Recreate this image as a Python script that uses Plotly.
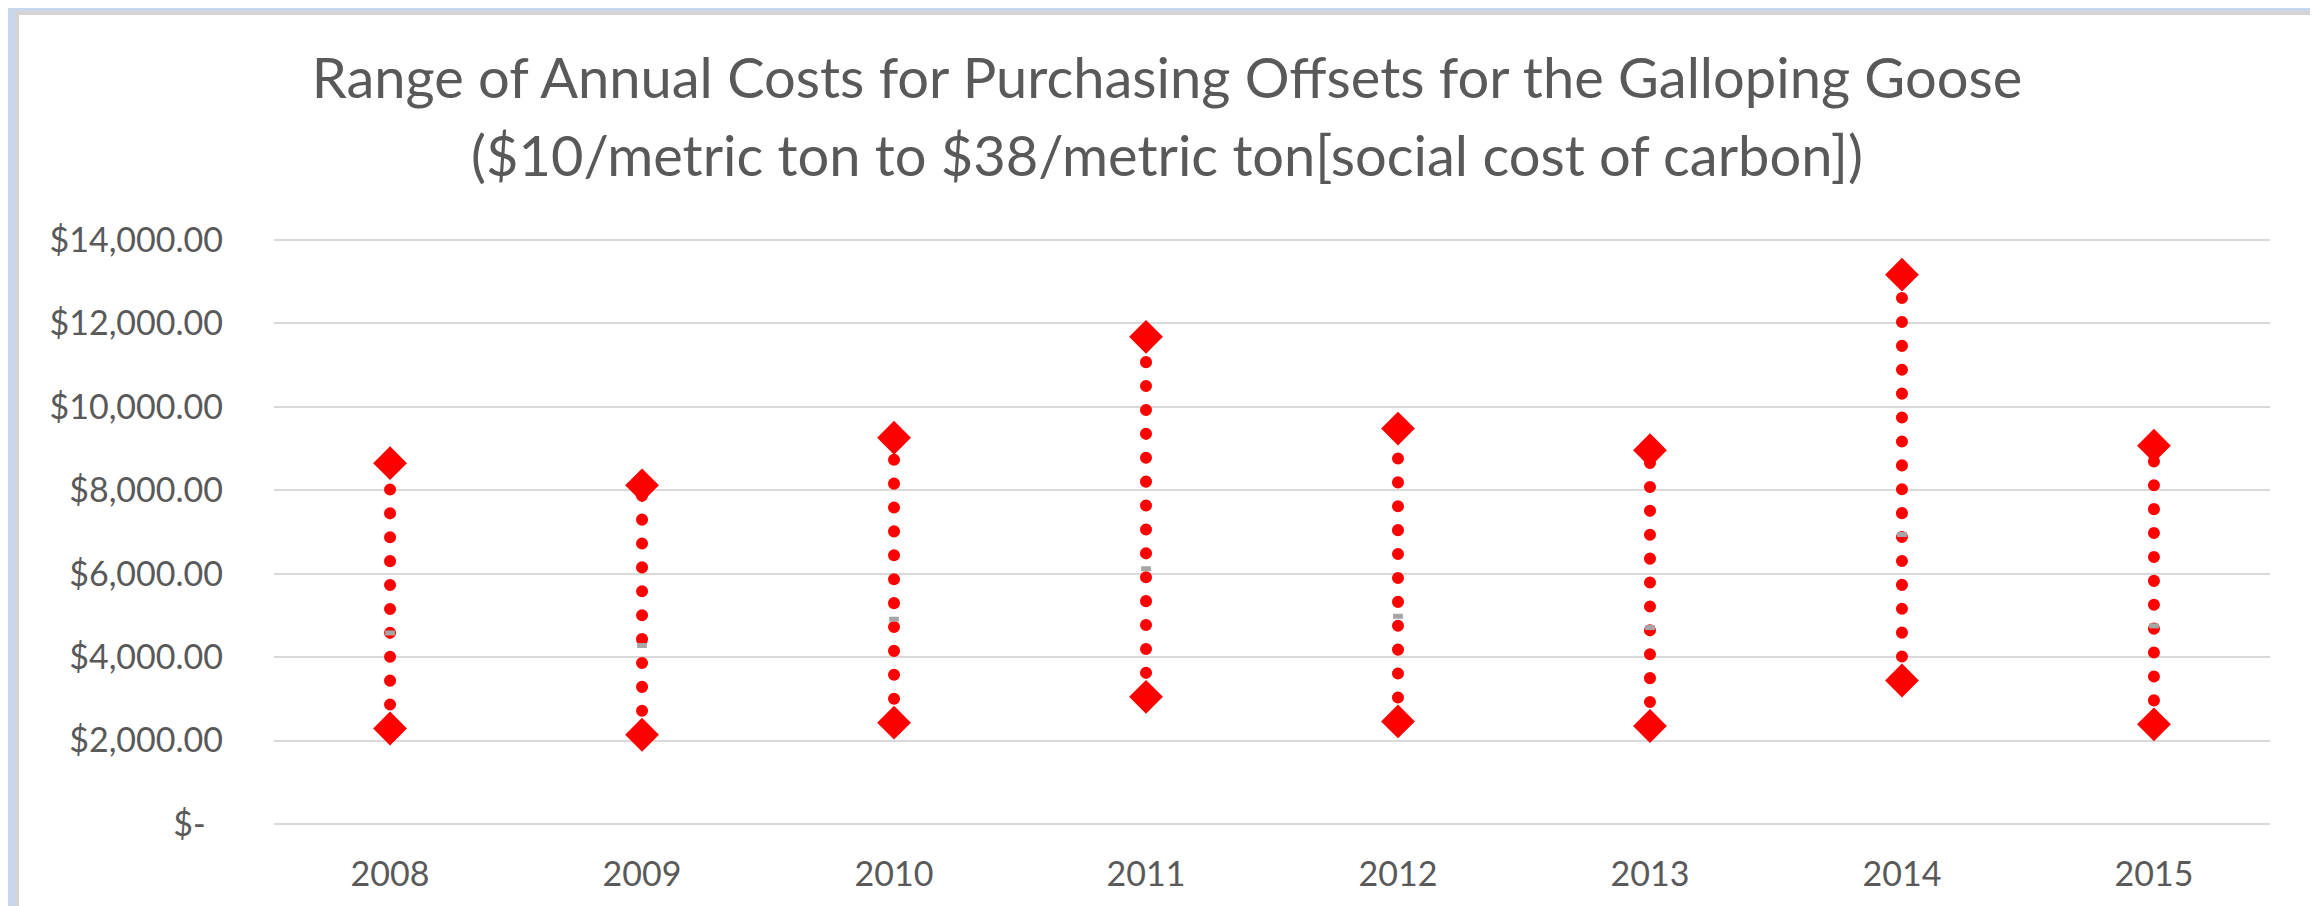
import plotly.graph_objects as go

years = ["2008", "2009", "2010", "2011", "2012", "2013", "2014", "2015"]
low_cost = [2290, 2140, 2430, 3050, 2460, 2350, 3440, 2390]      # $10/metric ton
mid_cost = [4580, 4280, 4910, 6120, 4980, 4710, 6940, 4750]      # middle marker
high_cost = [8650, 8120, 9260, 11680, 9480, 8960, 13170, 9070]   # $38/metric ton
tick_vals = [0, 2000, 4000, 6000, 8000, 10000, 12000, 14000]
tick_text = ["$-\u00a0\u00a0", "$2,000.00", "$4,000.00", "$6,000.00", "$8,000.00",
             "$10,000.00", "$12,000.00", "$14,000.00"]
title_line1 = "Range of Annual Costs for Purchasing Offsets for the Galloping Goose"
title_line2 = "($10/metric ton to $38/metric ton[social cost of carbon])"

W, H = 2318, 906
ML, MR, MT, MB = 266, 56, 231, 90
PW, PH = W - ML - MR, H - MT - MB
Y_MAX = 14025

def px_x(p):
    return (p - ML) / PW

def px_y(p):
    return (H - MB - p) / PH

# range lines built from data
lx, ly = [], []
for yr, lo, hi in zip(years, low_cost, high_cost):
    lx += [yr, yr, None]
    ly += [lo, hi, None]

fig = go.Figure()
fig.add_trace(go.Scatter(x=lx, y=ly, mode="lines", hoverinfo="skip",
                         line=dict(color="#ff0000", width=12, dash="12px,12px"),
                         showlegend=False, name="range"))
fig.add_trace(go.Scatter(x=years, y=mid_cost, mode="markers", showlegend=False,
                         marker=dict(symbol="line-ew", size=7,
                                     line=dict(color="#a6a6a6", width=5))))
fig.add_trace(go.Scatter(x=years, y=low_cost, mode="markers", showlegend=False,
                         marker=dict(symbol="diamond", size=26, color="#ff0000",
                                     line=dict(width=0))))
fig.add_trace(go.Scatter(x=years, y=high_cost, mode="markers", showlegend=False,
                         marker=dict(symbol="diamond", size=26, color="#ff0000",
                                     line=dict(width=0))))

fig.add_shape(type="rect", xref="paper", yref="paper", layer="below",
              x0=px_x(9), x1=px_x(2307), y0=px_y(5), y1=px_y(960),
              fillcolor="white", line=dict(color="#d4d4d4", width=4))

font_family = "Lato, 'Noto Sans', sans-serif"
fig.add_annotation(text=title_line2, xref="paper", yref="paper",
                   x=px_x(1159), y=px_y(146), xanchor="center", yanchor="middle",
                   showarrow=False, font=dict(size=56, color="#595959", family=font_family))

fig.update_layout(
    width=W, height=H,
    margin=dict(l=ML, r=MR, t=MT, b=MB, pad=0),
    paper_bgcolor="#c9d7ee",
    plot_bgcolor="rgba(0,0,0,0)",
    font=dict(family=font_family, color="#595959", size=34),
    title=dict(text=title_line1, x=0.5, xanchor="center", xref="container",
               y=1 - 70 / H, yanchor="middle", yref="container",
               font=dict(size=56, color="#595959", family=font_family)),
    xaxis=dict(type="category", categoryorder="array", categoryarray=years,
               showgrid=False, showline=False, zeroline=False, ticks="",
               ticklabelstandoff=27, tickfont=dict(size=34, color="#595959")),
    yaxis=dict(range=[0, Y_MAX], tickvals=tick_vals, ticktext=tick_text,
               showgrid=True, gridcolor="#d9d9d9", gridwidth=2,
               zeroline=True, zerolinecolor="#d9d9d9", zerolinewidth=2,
               showline=False, ticks="", ticklabelstandoff=50,
               tickfont=dict(size=34, color="#595959")),
)

post = """
var gd = document.querySelector('.plotly-graph-div');
function roundDots(){
  var ps = gd.querySelectorAll('.scatterlayer .trace:first-child path.js-line');
  ps.forEach(function(p){
    p.style.strokeLinecap = 'round';
    p.style.strokeDasharray = '0.1px,23.8px';
  });
}
roundDots();
if (gd.on) { gd.on('plotly_afterplot', roundDots); }
"""
fig.write_html("out.html", post_script=post)
